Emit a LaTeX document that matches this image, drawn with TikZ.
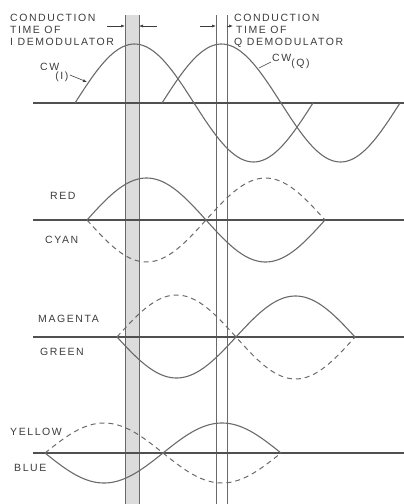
\documentclass[tikz,border=0pt]{standalone}
\usepackage{fontspec}
\newfontfamily\lblfont[LetterSpace=15]{Liberation Sans}
\usetikzlibrary{arrows.meta}
\definecolor{inkc}{HTML}{3C3C3C}
\definecolor{wavec}{HTML}{6A6A6A}
\definecolor{axisc}{HTML}{505050}
\definecolor{bandc}{HTML}{DCDCDC}

\begin{document}
\begin{tikzpicture}[x=1pt, y=-1pt,
  font={\lblfont\fontsize{10.5}{12}\selectfont},
  lbl/.style={text=inkc, inner sep=0pt, anchor=west},
  axisline/.style={draw=axisc, line width=1.1pt},
  solidwave/.style={draw=wavec, line width=1.1pt},
  dashwave/.style={draw=wavec, line width=1pt, dash pattern=on 5pt off 4pt},
  marker/.style={draw=wavec, line width=0.6pt},
  lead/.style={draw=inkc, line width=0.6pt},
  pointer/.style={lead, -{Latex[length=4pt, width=3pt]}}]
\useasboundingbox (0,0) rectangle (404,504);

% conduction windows
\fill[bandc] (125,15) rectangle (139,504);
\draw[marker] (125,15) -- (125,504) (139,15) -- (139,504);
\draw[marker] (216,15) -- (216,504) (227,15) -- (227,504);

% time axes
\foreach \y in {103,220,337,453}
  \draw[axisline] (33,\y) -- (404,\y);

% cw references
\draw[solidwave] plot[domain=75:313, samples=90] (\x, {103-59*sin((\x-75)/119*180)});
\draw[solidwave] plot[domain=162:400, samples=90] (\x, {103-59*sin((\x-162)/119*180)});

% red / cyan
\draw[solidwave] plot[domain=87:325, samples=90] (\x, {220-42*sin((\x-87)/119*180)});
\draw[dashwave] plot[domain=87:325, samples=90] (\x, {220+42*sin((\x-87)/119*180)});

% magenta / green
\draw[dashwave] plot[domain=117:355, samples=90] (\x, {337-42*sin((\x-117)/119*180)});
\draw[solidwave] plot[domain=117:355, samples=90] (\x, {337+41*sin((\x-117)/119*180)});

% yellow / blue
\draw[dashwave] plot[domain=45:281, samples=90] (\x, {453-30*sin((\x-45)/118*180)});
\draw[solidwave] plot[domain=45:281, samples=90] (\x, {453+30*sin((\x-45)/118*180)});

% labels
\node[lbl, anchor=north west, align=left] (condi) at (10,13.5) {CONDUCTION\\TIME OF\\I DEMODULATOR};
\node[lbl, anchor=north west, align=left] (condq) at (234,13.5) {CONDUCTION\\\hspace{2pt}TIME OF\\Q DEMODULATOR};
\node[lbl] (cwi) at (40,72) {CW\kern-4pt\raisebox{-9pt}{(I)}};
\node[lbl] (cwq) at (272,61) {CW\raisebox{-5pt}{(Q)}};
\node[lbl] (red) at (50,196) {RED};
\node[lbl] (cyan) at (45,240) {CYAN};
\node[lbl] (magenta) at (38,319) {MAGENTA};
\node[lbl] (green) at (40,352) {GREEN};
\node[lbl] (yellow) at (10,432) {YELLOW};
\node[lbl] (blue) at (14,468) {BLUE};

% leaders
\coordinate (cwipt) at (87,82);
\coordinate (cwqpt) at (259,68);
\draw[pointer] (70,75) -- (cwipt);
\draw[lead] (cwq.west) ++(-1pt,-1pt) -- (cwqpt);

% window arrows
\coordinate (iwl) at (107,26);
\coordinate (iwr) at (157,26);
\coordinate (qwl) at (200,26);
\coordinate (qwr) at (227,26);
\draw[pointer] (iwl) -- (125,26);
\draw[pointer] (iwr) -- (139,26);
\draw[pointer] (qwl) -- (216,26);
\draw[pointer] (qwr) -- ++(6,0);
\end{tikzpicture}
\end{document}
